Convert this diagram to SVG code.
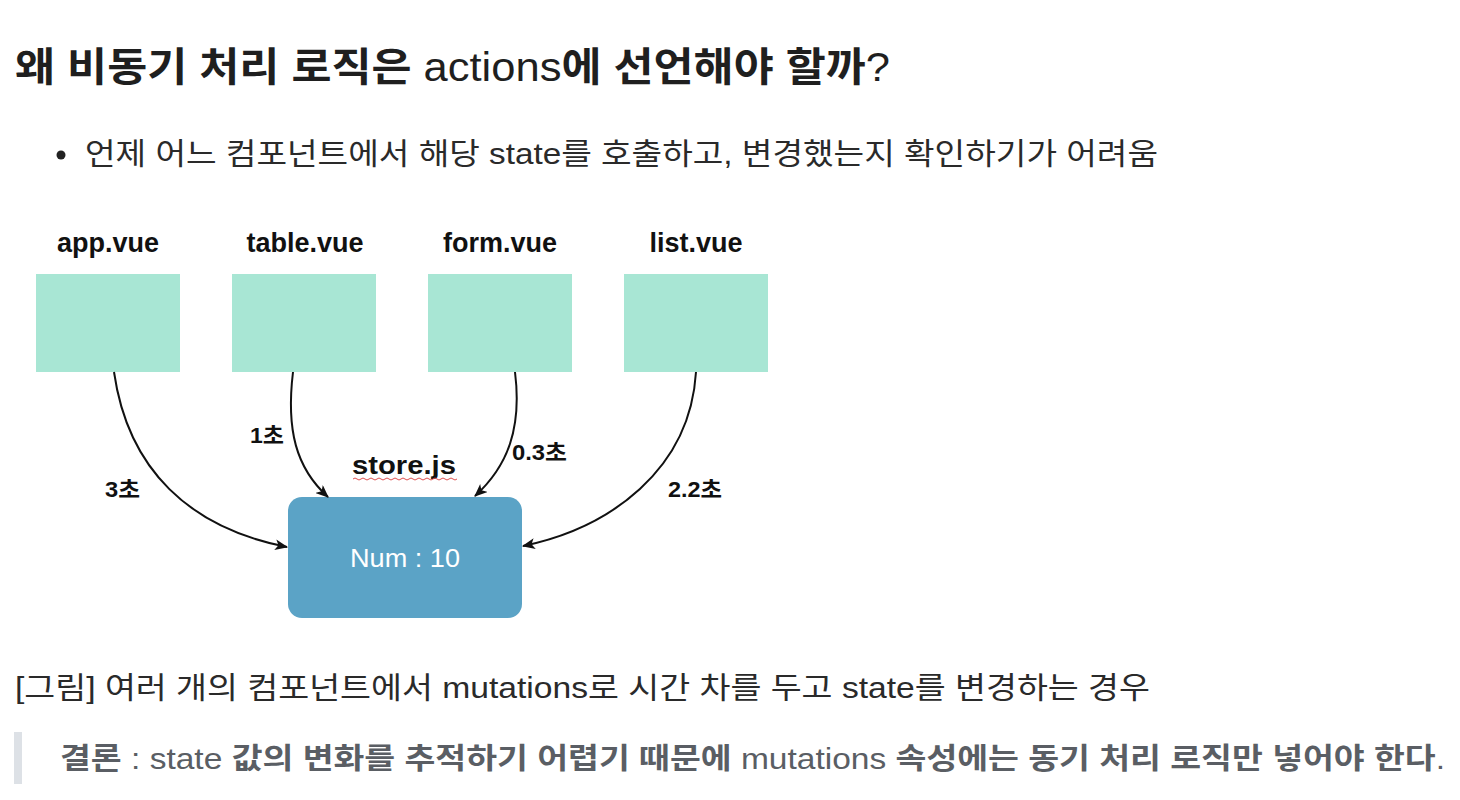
<svg xmlns="http://www.w3.org/2000/svg" width="1460" height="800" viewBox="0 0 1460 800">
<style>
text{font-family:"Liberation Sans","Noto Sans CJK KR",sans-serif;}
.title{font-size:40px;fill:#1f1f1f;}
.b{font-weight:bold;}
.body{font-size:30px;fill:#2a2a2a;}
.comp{fill:#a8e6d4;}
.lbl{font-size:27px;font-weight:bold;fill:#111;text-anchor:middle;}
.tm{font-size:22px;font-weight:bold;fill:#111;}
.edge{fill:none;stroke:#111;stroke-width:2;marker-end:url(#ah);}
.quote{font-size:29px;fill:#5a5e64;}
</style>
<defs>
<marker id="ah" viewBox="0 0 12 10" refX="11" refY="5" markerWidth="13" markerHeight="11" markerUnits="userSpaceOnUse" orient="auto">
<path d="M0 0 L12 5 L0 10 L3 5 Z" fill="#111"/>
</marker>
</defs>
<rect width="1460" height="800" fill="#ffffff"/>
<text class="title" x="15" y="81" textLength="875" lengthAdjust="spacingAndGlyphs"><tspan class="b">왜 비동기 처리 로직은 </tspan><tspan>actions</tspan><tspan class="b">에 선언해야 할까</tspan><tspan>?</tspan></text>
<circle cx="61" cy="155" r="4.5" fill="#222"/>
<text class="body" x="85" y="164" textLength="1073" lengthAdjust="spacingAndGlyphs">언제 어느 컴포넌트에서 해당 state를 호출하고, 변경했는지 확인하기가 어려움</text>
<g id="app">
<text class="lbl" x="108" y="252">app.vue</text>
<rect class="comp" x="36" y="274" width="144" height="98"/>
</g>
<g id="table">
<text class="lbl" x="305" y="252">table.vue</text>
<rect class="comp" x="232" y="274" width="144" height="98"/>
</g>
<g id="form">
<text class="lbl" x="500" y="252">form.vue</text>
<rect class="comp" x="428" y="274" width="144" height="98"/>
</g>
<g id="list">
<text class="lbl" x="696" y="252">list.vue</text>
<rect class="comp" x="624" y="274" width="144" height="98"/>
</g>
<g id="store">
<text x="352" y="474" font-size="25" font-weight="bold" fill="#111" textLength="104" lengthAdjust="spacingAndGlyphs">store.js</text>
<path d="M353 479 q2 -2 4 0 t4 0 t4 0 t4 0 t4 0 t4 0 t4 0 t4 0 t4 0 t4 0 t4 0 t4 0 t4 0 t4 0 t4 0 t4 0 t4 0 t4 0 t4 0 t4 0 t4 0 t4 0 t4 0 t4 0 t4 0 t4 0" fill="none" stroke="#e05050" stroke-width="1"/>
<rect x="288" y="497" width="234" height="121" rx="14" fill="#5ba3c6"/>
<text x="350" y="567" font-size="26" fill="#ffffff" textLength="110" lengthAdjust="spacingAndGlyphs">Num : 10</text>
</g>
<g id="connectors">
<path class="edge" d="M114 372 C128 470 190 528 287 547"/>
<path class="edge" d="M293 372 C286 430 296 468 328 497"/>
<path class="edge" d="M515 372 C522 428 508 466 475 496"/>
<path class="edge" d="M696 372 C690 470 610 528 523 546"/>
<text class="tm" x="105" y="497" textLength="35" lengthAdjust="spacingAndGlyphs">3초</text>
<text class="tm" x="250" y="443" textLength="34" lengthAdjust="spacingAndGlyphs">1초</text>
<text class="tm" x="512" y="460" textLength="55" lengthAdjust="spacingAndGlyphs">0.3초</text>
<text class="tm" x="668" y="497" textLength="54" lengthAdjust="spacingAndGlyphs">2.2초</text>
</g>
<text class="body" x="15" y="698" textLength="1135" lengthAdjust="spacingAndGlyphs">[그림] 여러 개의 컴포넌트에서 mutations로 시간 차를 두고 state를 변경하는 경우</text>
<rect x="14" y="732" width="8" height="52" fill="#dde1e6"/>
<text class="quote" x="60" y="769" textLength="1385" lengthAdjust="spacingAndGlyphs"><tspan class="b">결론 </tspan><tspan>: state </tspan><tspan class="b">값의 변화를 추적하기 어렵기 때문에 </tspan><tspan>mutations </tspan><tspan class="b">속성에는 동기 처리 로직만 넣어야 한다</tspan><tspan>.</tspan></text>
</svg>
